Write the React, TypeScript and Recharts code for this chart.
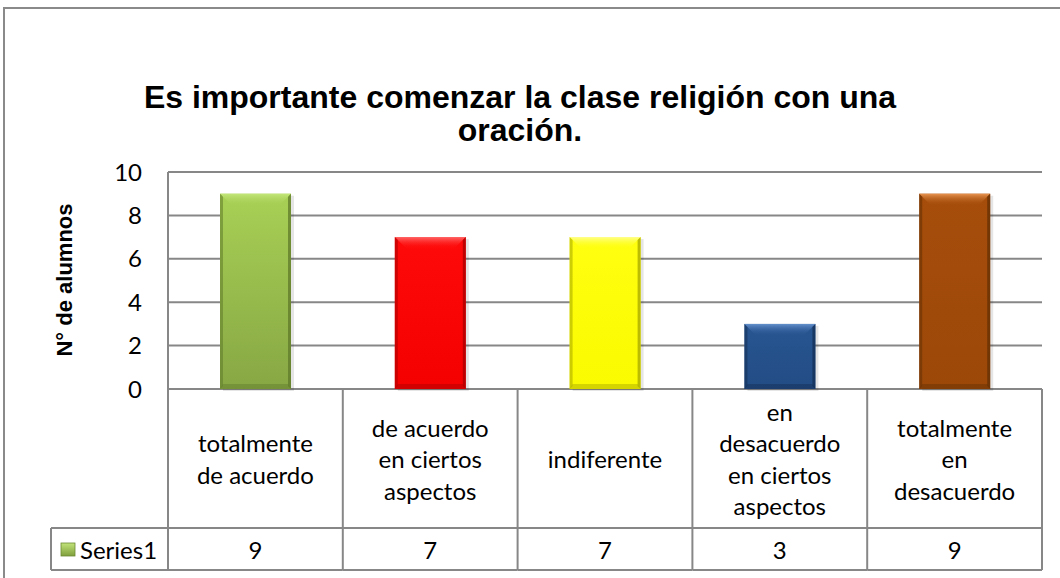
import { BarChart, Bar, XAxis, YAxis, CartesianGrid, Cell, Label } from 'recharts'

const categories = [
  'totalmente de acuerdo',
  'de acuerdo en ciertos aspectos',
  'indiferente',
  'en desacuerdo en ciertos aspectos',
  'totalmente en desacuerdo'
]
const tickLines = [
  ['totalmente', 'de acuerdo'],
  ['de acuerdo', 'en ciertos', 'aspectos'],
  ['indiferente'],
  ['en', 'desacuerdo', 'en ciertos', 'aspectos'],
  ['totalmente', 'en', 'desacuerdo']
]
const series1 = [9, 7, 7, 3, 9]
const yTicks = [0, 2, 4, 6, 8, 10]

const data = categories.map((name, i) => ({ name, value: series1[i] }))

const BAR_COLORS = [
  { light: '#c4e67a', top: '#a8d055', bottom: '#87a744', edge: '#5f7a2a' },
  { light: '#ff6464', top: '#ff0a0a', bottom: '#f50000', edge: '#a80000' },
  { light: '#ffff8a', top: '#ffff10', bottom: '#fafa00', edge: '#a6a600' },
  { light: '#6490cc', top: '#285591', bottom: '#224c84', edge: '#142f55' },
  { light: '#e89450', top: '#a64d0b', bottom: '#9c4809', edge: '#633004' }
]

const GRID = '#878787'
const FONT = 'Lato, "Open Sans", sans-serif'

const BevelBar = (props: any) => {
  const { x, y, width: w, height: h, index } = props
  if (!h || h <= 0) return null
  const c = BAR_COLORS[index % BAR_COLORS.length]
  const b = Math.min(12, h / 3, w / 4)
  const s = 3
  const id = `bar${index}`
  return (
    <g>
      <defs>
        <linearGradient id={id + 'v'} x1="0" y1="0" x2="0" y2="1">
          <stop offset="0%" stopColor={c.top} />
          <stop offset="100%" stopColor={c.bottom} />
        </linearGradient>
        <linearGradient id={id + 't'} x1="0" y1="0" x2="0" y2="1">
          <stop offset="0%" stopColor={c.light} />
          <stop offset="100%" stopColor={c.top} stopOpacity={0} />
        </linearGradient>
      </defs>
      <rect x={x + 3} y={y + 2} width={w} height={h} fill="#000" opacity={0.1} />
      <rect x={x} y={y} width={w} height={h} fill={`url(#${id}v)`} />
      <polygon points={`${x},${y} ${x + w},${y} ${x + w - b},${y + b} ${x + b},${y + b}`} fill={`url(#${id}t)`} />
      <polygon points={`${x},${y} ${x + s},${y + s} ${x + s},${y + h - s} ${x},${y + h}`} fill={c.edge} opacity={0.55} />
      <polygon points={`${x + w},${y} ${x + w - s},${y + s} ${x + w - s},${y + h - s} ${x + w},${y + h}`} fill={c.edge} opacity={0.75} />
      <polygon points={`${x},${y + h} ${x + s},${y + h - 5} ${x + w - s},${y + h - 5} ${x + w},${y + h}`} fill={c.edge} opacity={0.45} />
    </g>
  )
}

const TableTick = (props: any) => {
  const { x, y, payload, index } = props
  const half = payload && payload.offset ? payload.offset : 87.4
  const left = x - half
  const right = x + half
  const top = y
  const mid = top + 139
  const bot = top + 181
  const lines = tickLines[index] || [String(payload.value)]
  const lh = 31.5
  const cy = (top + mid) / 2
  const start = cy - ((lines.length - 1) * lh) / 2
  return (
    <g>
      <line x1={left} y1={top} x2={left} y2={bot} stroke={GRID} strokeWidth={2} />
      {index === categories.length - 1 && (
        <line x1={right} y1={top} x2={right} y2={bot} stroke={GRID} strokeWidth={2} />
      )}
      <line x1={left} y1={mid} x2={right} y2={mid} stroke={GRID} strokeWidth={2} />
      <line x1={left} y1={bot} x2={right} y2={bot} stroke={GRID} strokeWidth={2} />
      {lines.map((t, i) => (
        <text key={i} x={x} y={start + i * lh} textAnchor="middle" dominantBaseline="central"
          fontFamily={FONT} fontSize={24} fill="#000">{t}</text>
      ))}
      <text x={x} y={(mid + bot) / 2} textAnchor="middle" dominantBaseline="central"
        fontFamily={FONT} fontSize={24} fill="#000">{series1[index]}</text>
      {index === 0 && (
        <g>
          <line x1={left - 117} y1={mid} x2={left} y2={mid} stroke={GRID} strokeWidth={2} />
          <line x1={left - 117} y1={bot} x2={left} y2={bot} stroke={GRID} strokeWidth={2} />
          <line x1={left - 117} y1={mid} x2={left - 117} y2={bot} stroke={GRID} strokeWidth={2} />
          <defs>
            <linearGradient id="legkey" x1="0" y1="0" x2="0" y2="1">
              <stop offset="0%" stopColor="#c2e27a" />
              <stop offset="100%" stopColor="#7f9f3c" />
            </linearGradient>
          </defs>
          <rect x={left - 107} y={(mid + bot) / 2 - 6} width={14} height={13} fill="url(#legkey)" stroke="#6d8a32" strokeWidth={0.8} />
          <text x={left - 88} y={(mid + bot) / 2} dominantBaseline="central"
            fontFamily={FONT} fontSize={24} fill="#000">Series1</text>
        </g>
      )}
    </g>
  )
}

export default function App() {
  return (
    <div style={{ position: 'absolute', left: 0, top: 0, width: 1060, height: 578, background: '#fff', overflow: 'hidden' }}>
      <div style={{ position: 'absolute', left: 3, top: 7, width: 1100, height: 600, borderLeft: '2px solid #8a8a8a', borderTop: '2px solid #8a8a8a' }} />
      <div style={{ position: 'absolute', left: 0, top: 81, width: 1040, textAlign: 'center', fontFamily: '"Liberation Sans", Arial, sans-serif', fontWeight: 'bold', fontSize: 32, lineHeight: '33px', color: '#000' }}>
        Es importante comenzar la clase religión con una<br />oración.
      </div>
      <div style={{ position: 'absolute', left: 0, top: 0 }}>
        <BarChart width={1060} height={578} data={data} margin={{ top: 172, right: 18, bottom: 0, left: 108 }}>
          <CartesianGrid vertical={false} stroke={GRID} strokeWidth={2} />
          <XAxis dataKey="name" height={189} tickSize={0} tickMargin={0} axisLine={false} tickLine={false}
            interval={0} tick={<TableTick />} />
          <YAxis width={60} domain={[0, 10]} ticks={yTicks} tickSize={0} tickMargin={26} tickLine={false}
            axisLine={{ stroke: GRID, strokeWidth: 2 }}
            tick={{ fontFamily: FONT, fontSize: 24, fill: '#000' }}>
            <Label content={() => (
              <text x={64} y={280} transform="rotate(-90 64 280)" textAnchor="middle" dominantBaseline="central"
                fontFamily='"Liberation Sans", Arial, sans-serif' fontWeight="bold" fontSize={22} fill="#000">N° de alumnos</text>
            )} />
          </YAxis>
          <Bar dataKey="value" barSize={71} isAnimationActive={false} shape={<BevelBar />}>
            {data.map((d, i) => <Cell key={d.name} fill={BAR_COLORS[i].top} />)}
          </Bar>
        </BarChart>
      </div>
    </div>
  )
}
